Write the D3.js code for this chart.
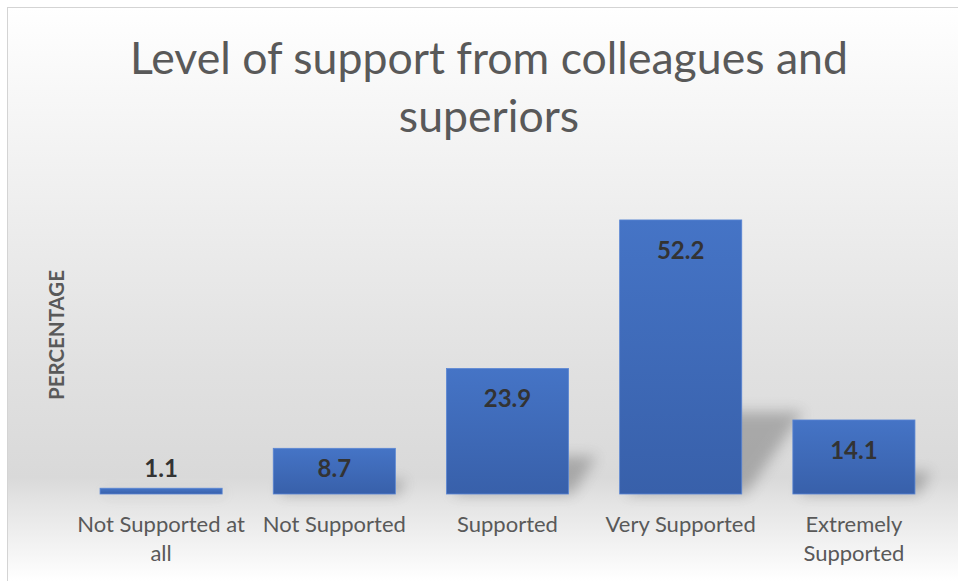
<!DOCTYPE html>
<html>
<head>
<meta charset="utf-8">
<script src="https://cdn.jsdelivr.net/npm/d3@7/dist/d3.min.js"></script>
<style>
  html, body { margin: 0; padding: 0; background: #ffffff; }
  svg { display: block; }
</style>
</head>
<body>
<svg id="chart" width="958" height="581"></svg>
<script>
// Survey responses: level of support from colleagues and superiors (%)
const titleLines = ["Level of support from colleagues and", "superiors"];
const categories = ["Not Supported at all", "Not Supported", "Supported", "Very Supported", "Extremely Supported"];
const categoryLines = [["Not Supported at", "all"], ["Not Supported"], ["Supported"], ["Very Supported"], ["Extremely", "Supported"]];
const values = [1.1, 8.7, 23.9, 52.2, 14.1];
const yDomain = [0, 60];
const yAxisLabel = "PERCENTAGE";

const W = 958, H = 581;
const frame = { x: 7.5, y: 7.5 };
const baseY = 494;
const svg = d3.select("#chart");
const defs = svg.append("defs");

// Chart-area background: white at the top fading to grey at the floor, lighter again under the bars
const bg = defs.append("linearGradient").attr("id", "bgGrad")
  .attr("gradientUnits", "userSpaceOnUse").attr("x1", 0).attr("y1", frame.y).attr("x2", 0).attr("y2", H);
[[0, "#ffffff"], [0.12, "#f9f9f9"], [0.35, "#eeeeee"], [0.62, "#e1e1e1"], [0.82, "#d9d9d9"],
 [0.86, "#e3e3e3"], [0.92, "#efefef"], [1, "#ffffff"]]
  .forEach(([o, c]) => bg.append("stop").attr("offset", o).attr("stop-color", c));

// Bar fill
const barGrad = defs.append("linearGradient").attr("id", "barGrad")
  .attr("x1", 0).attr("y1", 0).attr("x2", 0).attr("y2", 1);
barGrad.append("stop").attr("offset", 0).attr("stop-color", "#4574c6");
barGrad.append("stop").attr("offset", 1).attr("stop-color", "#3860aa");

// Soft cast shadow
defs.append("filter").attr("id", "shadowBlur")
  .attr("x", "-50%").attr("y", "-50%").attr("width", "200%").attr("height", "200%")
  .append("feGaussianBlur").attr("stdDeviation", 7);

svg.append("rect")
  .attr("x", frame.x).attr("y", frame.y)
  .attr("width", W + 10).attr("height", H + 10)
  .attr("fill", "url(#bgGrad)")
  .attr("stroke", "#d4d4d4").attr("stroke-width", 1);

// Scales
const x = d3.scaleBand().domain(categories).range([74.5, 940.5]).paddingInner(0.295).paddingOuter(0.1475);
const y = d3.scaleLinear().domain(yDomain).range([baseY, 179]);

const data = categories.map((c, i) => ({ cat: c, value: values[i], lines: categoryLines[i] }));

// Shadows cast up and to the right of each bar
const shadowG = svg.append("g").attr("filter", "url(#shadowBlur)").attr("opacity", 0.45);
shadowG.selectAll("path").data(data).join("path")
  .attr("fill", "#6a6a6a")
  .attr("d", d => {
    const x0 = x(d.cat), x1 = x0 + x.bandwidth();
    const h = baseY - y(d.value);
    const sh = Math.min(h * 0.3, 90), dx = sh * 0.75;
    return `M${x0 + 6},${baseY} L${x1 + 4},${baseY} L${x1 + dx},${baseY - sh} L${x0 + dx},${baseY - sh} Z`;
  });

// Bars
svg.append("g").selectAll("rect").data(data).join("rect")
  .attr("x", d => x(d.cat))
  .attr("y", d => y(d.value))
  .attr("width", x.bandwidth())
  .attr("height", d => baseY - y(d.value))
  .attr("fill", "url(#barGrad)")
  .attr("stroke", "#5a86d4").attr("stroke-width", 0.8);

// Value labels
function labelY(v) {
  const top = y(v), h = baseY - top;
  if (h < 30) return top - 20;
  return Math.min(top + 30, (top + baseY) / 2 - 3);
}
svg.append("g").selectAll("text").data(data).join("text")
  .attr("x", d => x(d.cat) + x.bandwidth() / 2)
  .attr("y", d => labelY(d.value))
  .attr("dy", "0.36em")
  .attr("text-anchor", "middle")
  .attr("font-family", "Lato, 'Open Sans', sans-serif")
  .attr("font-weight", 700)
  .attr("font-size", 24)
  .attr("fill", "#333333")
  .text(d => d.value.toFixed(1));

// Category axis labels
const catG = svg.append("g");
data.forEach(d => {
  const t = catG.append("text")
    .attr("x", x(d.cat) + x.bandwidth() / 2)
    .attr("y", 532)
    .attr("text-anchor", "middle")
    .attr("font-family", "Lato, 'Open Sans', sans-serif")
    .attr("font-size", 22)
    .attr("fill", "#595959");
  d.lines.forEach((ln, i) => {
    t.append("tspan").attr("x", x(d.cat) + x.bandwidth() / 2).attr("dy", i === 0 ? 0 : 29).text(ln);
  });
});

// Title
const titleG = svg.append("g");
const titleSize = 46;
titleLines.forEach((ln, i) => {
  titleG.append("text")
    .attr("x", 489).attr("y", 74 + i * 58)
    .attr("text-anchor", "middle")
    .attr("font-family", "Lato, 'Open Sans', sans-serif")
    .attr("font-size", titleSize)
    .attr("fill", "#595959")
    .text(ln);
});
// Scale title font so the first line spans its intended width
const first = titleG.select("text").node();
const w0 = first.getComputedTextLength();
const fitted = titleSize * 718 / w0;
titleG.selectAll("text").attr("font-size", fitted);

// Vertical axis title
const yl = svg.append("text")
  .attr("transform", "translate(64,335) rotate(-90)")
  .attr("text-anchor", "middle")
  .attr("font-family", "Lato, 'Open Sans', sans-serif")
  .attr("font-weight", 700)
  .attr("font-size", 17)
  .attr("fill", "#595959")
  .text(yAxisLabel);
const yw = yl.node().getComputedTextLength();
yl.attr("font-size", 17 * 130 / yw);
</script>
</body>
</html>
